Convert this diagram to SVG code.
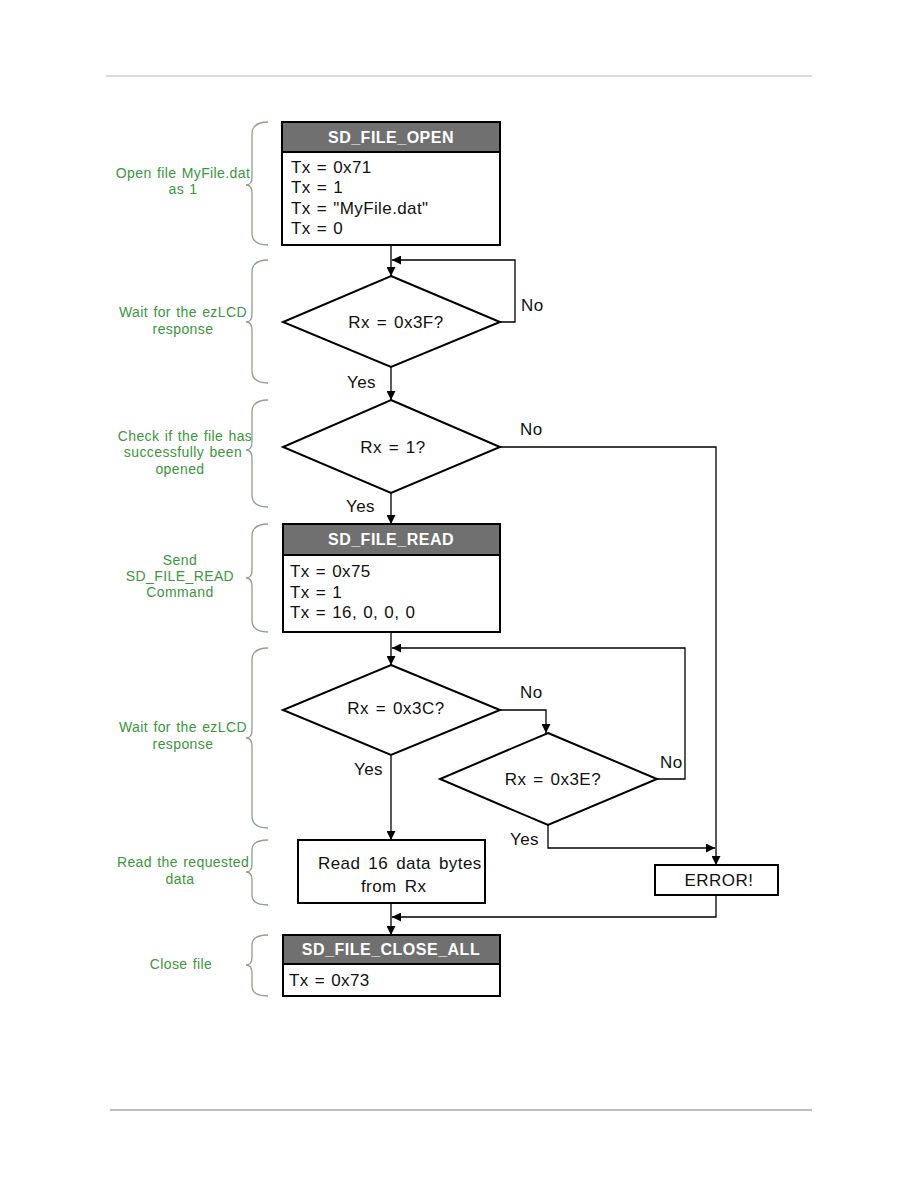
<svg xmlns="http://www.w3.org/2000/svg" width="918" height="1188" viewBox="0 0 918 1188">
<defs>
<marker id="ah" viewBox="0 0 10 10" refX="10" refY="5" markerWidth="9" markerHeight="9" markerUnits="userSpaceOnUse" orient="auto">
<path d="M0,0 L10,5 L0,10 z" fill="#000"/>
</marker>
</defs>
<style>
.box{fill:#fff;stroke:#000;stroke-width:2}
.hdr{fill:#707070;stroke:#000;stroke-width:2}
.ht{font-family:"Liberation Sans",Arial,sans-serif;font-size:16px;font-weight:bold;fill:#fff;text-anchor:middle;letter-spacing:0.5px}
.bt{font-family:"Liberation Sans",Arial,sans-serif;font-size:17px;fill:#111;letter-spacing:0.4px;word-spacing:1px}
.ct{font-family:"Liberation Sans",Arial,sans-serif;font-size:17px;fill:#111;text-anchor:middle;letter-spacing:0.5px;word-spacing:1.5px}
.gl{font-family:"Liberation Sans",Arial,sans-serif;font-size:14px;fill:#3c963c;text-anchor:middle;letter-spacing:0.4px;word-spacing:1px}
.br{fill:none;stroke:#8f9f8f;stroke-width:1.3}
.ln{fill:none;stroke:#000;stroke-width:1.3}
.rule{stroke:#d0d0d0;stroke-width:1.5}
</style>
<rect width="918" height="1188" fill="#fff"/>
<line class="rule" x1="106" y1="76" x2="812" y2="76"/>
<line x1="110" y1="1110" x2="812" y2="1110" stroke="#a8a8a8" stroke-width="1.5"/>

<g id="connectors">
<line class="ln" x1="391" y1="245" x2="391" y2="276" marker-end="url(#ah)"/>
<polyline class="ln" points="500,322 515,322 515,260 392,260" marker-end="url(#ah)"/>
<line class="ln" x1="391" y1="367" x2="391" y2="400" marker-end="url(#ah)"/>
<polyline class="ln" points="500,447 716,447 716,865" marker-end="url(#ah)"/>
<line class="ln" x1="391" y1="493" x2="391" y2="524" marker-end="url(#ah)"/>
<line class="ln" x1="391" y1="632" x2="391" y2="665" marker-end="url(#ah)"/>
<polyline class="ln" points="657,779 685,779 685,648 392,648" marker-end="url(#ah)"/>
<polyline class="ln" points="500,710 546,710 546,733" marker-end="url(#ah)"/>
<line class="ln" x1="391" y1="755" x2="391" y2="840" marker-end="url(#ah)"/>
<polyline class="ln" points="548,825 548,848 715,848" marker-end="url(#ah)"/>
<polyline class="ln" points="716,895 716,917 392,917" marker-end="url(#ah)"/>
<line class="ln" x1="391" y1="903" x2="391" y2="935" marker-end="url(#ah)"/>
<text class="bt" x="521" y="311">No</text>
<text class="bt" x="347" y="388">Yes</text>
<text class="bt" x="520" y="435">No</text>
<text class="bt" x="346" y="512">Yes</text>
<text class="bt" x="520" y="698">No</text>
<text class="bt" x="354" y="775">Yes</text>
<text class="bt" x="660" y="768">No</text>
<text class="bt" x="510" y="845">Yes</text>
</g>

<g id="open">
<rect class="box" x="282" y="122" width="218" height="123"/>
<rect class="hdr" x="282" y="122" width="218" height="30"/>
<text class="ht" x="391" y="143">SD_FILE_OPEN</text>
<text class="bt" x="291" y="173">Tx = 0x71</text>
<text class="bt" x="291" y="193">Tx = 1</text>
<text class="bt" x="291" y="214">Tx = "MyFile.dat"</text>
<text class="bt" x="291" y="234">Tx = 0</text>
</g>

<g id="d1">
<polygon class="box" points="391,276 500,322 391,367 283,322"/>
<text class="ct" x="396" y="328">Rx = 0x3F?</text>
</g>

<g id="d2">
<polygon class="box" points="391,400 500,447 391,493 283,447"/>
<text class="ct" x="393" y="453">Rx = 1?</text>
</g>

<g id="read">
<rect class="box" x="283" y="524" width="217" height="108"/>
<rect class="hdr" x="283" y="524" width="217" height="31"/>
<text class="ht" x="391" y="545">SD_FILE_READ</text>
<text class="bt" x="290" y="577">Tx = 0x75</text>
<text class="bt" x="290" y="598">Tx = 1</text>
<text class="bt" x="290" y="618">Tx = 16, 0, 0, 0</text>
</g>

<g id="d3">
<polygon class="box" points="391,665 500,710 391,755 283,710"/>
<text class="ct" x="396" y="714">Rx = 0x3C?</text>
</g>

<g id="d4">
<polygon class="box" points="548,733 657,779 548,825 440,779"/>
<text class="ct" x="553" y="785">Rx = 0x3E?</text>
</g>

<g id="readdata">
<rect class="box" x="298" y="840" width="187" height="63"/>
<text class="bt" x="318" y="869" style="word-spacing:3px">Read 16 data bytes</text>
<text class="bt" x="361" y="892" style="word-spacing:3px">from Rx</text>
</g>

<g id="error">
<rect class="box" x="655" y="865" width="123" height="30"/>
<text class="ct" x="719" y="886">ERROR!</text>
</g>

<g id="close">
<rect class="box" x="283" y="935" width="217" height="61"/>
<rect class="hdr" x="283" y="935" width="217" height="29"/>
<text class="ht" x="391" y="955">SD_FILE_CLOSE_ALL</text>
<text class="bt" x="289" y="986">Tx = 0x73</text>
</g>

<g id="annotations">
<path class="br" d="M268,122 Q252,122 252,134 L252,177 Q252,185 246,185 Q252,185 252,193 L252,233 Q252,245 268,245"/>
<text class="gl" x="183" y="178">Open  file MyFile.dat</text>
<text class="gl" x="183" y="194">as 1</text>

<path class="br" d="M268,260 Q252,260 252,272 L252,314 Q252,322 246,322 Q252,322 252,330 L252,371 Q252,383 268,383"/>
<text class="gl" x="183" y="317">Wait  for the  ezLCD</text>
<text class="gl" x="183" y="334">response</text>

<path class="br" d="M268,400 Q252,400 252,412 L252,442 Q252,450 246,450 Q252,450 252,458 L252,495 Q252,507 268,507"/>
<text class="gl" x="185" y="441">Check if the file has</text>
<text class="gl" x="183" y="457">successfully been</text>
<text class="gl" x="180" y="474">opened</text>

<path class="br" d="M268,524 Q252,524 252,536 L252,570 Q252,578 246,578 Q252,578 252,586 L252,620 Q252,632 268,632"/>
<text class="gl" x="180" y="565">Send</text>
<text class="gl" x="180" y="581">SD_FILE_READ</text>
<text class="gl" x="180" y="597">Command</text>

<path class="br" d="M268,648 Q252,648 252,660 L252,730 Q252,738 246,738 Q252,738 252,746 L252,816 Q252,828 268,828"/>
<text class="gl" x="183" y="732">Wait  for the  ezLCD</text>
<text class="gl" x="183" y="749">response</text>

<path class="br" d="M268,840 Q252,840 252,850 L252,864 Q252,872 246,872 Q252,872 252,880 L252,895 Q252,905 268,905"/>
<text class="gl" x="183" y="867">Read  the requested</text>
<text class="gl" x="180" y="884">data</text>

<path class="br" d="M268,935 Q252,935 252,945 L252,957 Q252,965 246,965 Q252,965 252,973 L252,986 Q252,996 268,996"/>
<text class="gl" x="181" y="969">Close  file</text>
</g>
</svg>
